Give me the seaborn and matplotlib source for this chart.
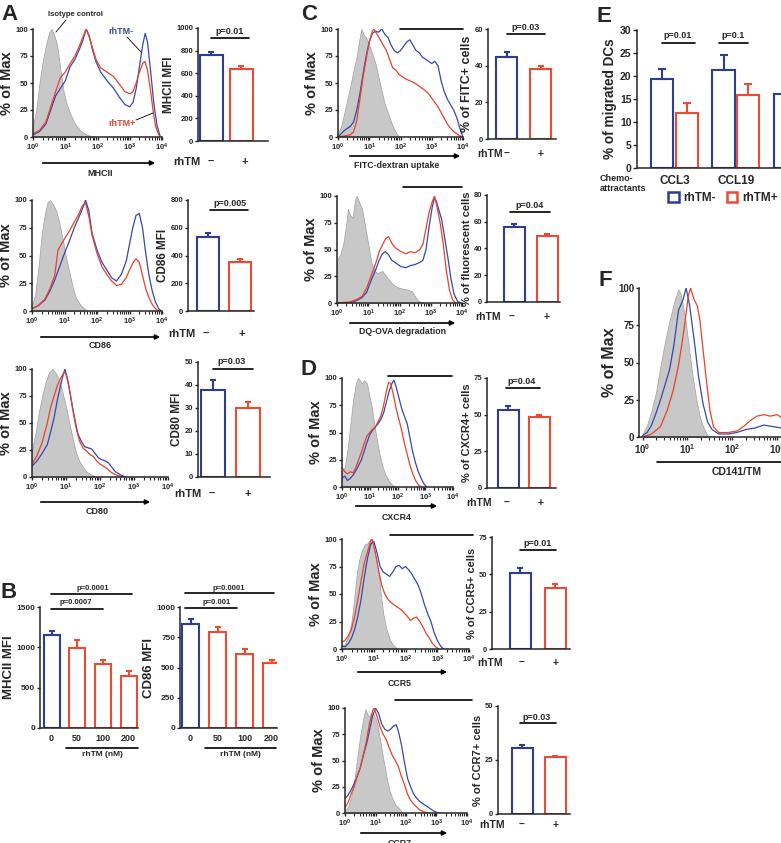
"""
Dendritic cell phenotype panels: flow histograms and MFI / percentage bars.
"""

import numpy as np
import pandas as pd
import matplotlib
matplotlib.use('Agg')
import matplotlib.pyplot as plt
from matplotlib.lines import Line2D
from matplotlib.patches import FancyArrowPatch, Patch
import seaborn as sns

# ---------------------------------------------------------------------------
# Data
# histogram curves are (log10 fluorescence, % of max) pairs
# ---------------------------------------------------------------------------
mhcii_iso = [(0, 10), (0.1, 25), (0.2, 50), (0.3, 70), (0.4, 85), (0.5, 97), (0.58, 100), (0.65, 95),
             (0.75, 85), (0.85, 62), (0.95, 42), (1.05, 30), (1.15, 22), (1.3, 12), (1.5, 5), (1.7, 2), (1.9, 0)]
mhcii_neg = [(0, 2), (0.2, 5), (0.4, 12), (0.55, 25), (0.7, 38), (0.85, 45), (1.0, 52), (1.15, 65), (1.3, 72),
             (1.45, 82), (1.55, 90), (1.65, 100), (1.75, 93), (1.85, 80), (1.95, 70), (2.1, 60), (2.3, 52),
             (2.5, 45), (2.7, 36), (2.85, 30), (3.0, 28), (3.1, 32), (3.2, 45), (3.3, 65), (3.4, 85), (3.48, 96),
             (3.55, 88), (3.65, 60), (3.75, 30), (3.85, 10), (3.95, 0)]
mhcii_pos = [(0, 3), (0.2, 6), (0.4, 14), (0.55, 28), (0.7, 42), (0.85, 55), (1.0, 60), (1.15, 68), (1.3, 75),
             (1.45, 85), (1.55, 93), (1.65, 100), (1.75, 92), (1.85, 82), (1.95, 72), (2.1, 64), (2.3, 60),
             (2.5, 56), (2.7, 48), (2.85, 42), (3.0, 40), (3.1, 42), (3.2, 50), (3.3, 60), (3.4, 68), (3.47, 70),
             (3.55, 62), (3.65, 42), (3.72, 25), (3.8, 10), (3.9, 2), (3.97, 0)]

cd86_iso = [(0, 5), (0.1, 15), (0.2, 40), (0.3, 70), (0.4, 88), (0.48, 98), (0.55, 100), (0.65, 96), (0.75, 90),
            (0.85, 78), (0.95, 64), (1.05, 48), (1.15, 35), (1.25, 22), (1.35, 12), (1.5, 5), (1.7, 0)]
cd86_neg = [(0, 2), (0.2, 5), (0.4, 10), (0.55, 18), (0.7, 28), (0.85, 40), (1.0, 52), (1.15, 63), (1.3, 75),
            (1.45, 85), (1.55, 92), (1.65, 100), (1.75, 90), (1.85, 70), (2.0, 55), (2.15, 44), (2.3, 37),
            (2.45, 30), (2.6, 27), (2.75, 33), (2.9, 45), (3.0, 60), (3.1, 75), (3.2, 86), (3.3, 88), (3.4, 75),
            (3.5, 52), (3.6, 32), (3.7, 18), (3.8, 8), (3.9, 2), (3.98, 0)]
cd86_pos = [(0, 2), (0.2, 5), (0.4, 11), (0.55, 20), (0.7, 32), (0.8, 55), (0.9, 60), (1.0, 65), (1.15, 72),
            (1.3, 80), (1.45, 88), (1.55, 95), (1.65, 97), (1.75, 85), (1.85, 68), (2.0, 52), (2.15, 40),
            (2.3, 33), (2.45, 27), (2.6, 23), (2.75, 24), (2.9, 30), (3.0, 37), (3.1, 43), (3.2, 47), (3.3, 44),
            (3.4, 32), (3.5, 20), (3.6, 12), (3.7, 6), (3.8, 2), (3.9, 0)]

cd80_iso = [(0, 25), (0.1, 40), (0.2, 60), (0.3, 75), (0.4, 88), (0.5, 97), (0.6, 100), (0.7, 96), (0.8, 90),
            (0.9, 78), (1.0, 65), (1.1, 50), (1.2, 35), (1.3, 22), (1.4, 14), (1.5, 9), (1.6, 5), (1.75, 2),
            (1.9, 0)]
cd80_neg = [(0, 10), (0.15, 15), (0.3, 22), (0.45, 30), (0.55, 42), (0.65, 55), (0.75, 72), (0.85, 86),
            (0.92, 95), (0.97, 100), (1.05, 90), (1.15, 72), (1.25, 55), (1.35, 40), (1.45, 33), (1.55, 28),
            (1.65, 27), (1.75, 26), (1.85, 22), (1.95, 18), (2.05, 16), (2.15, 15), (2.25, 13), (2.35, 9),
            (2.45, 5), (2.6, 2), (2.75, 0)]
cd80_pos = [(0, 12), (0.15, 20), (0.3, 32), (0.45, 50), (0.55, 65), (0.65, 75), (0.75, 85), (0.85, 92),
            (0.95, 97), (1.0, 95), (1.1, 82), (1.2, 62), (1.3, 45), (1.4, 33), (1.5, 27), (1.6, 24), (1.7, 21),
            (1.8, 19), (1.9, 15), (2.0, 12), (2.1, 10), (2.2, 8), (2.3, 5), (2.4, 3), (2.55, 1), (2.7, 0)]

fitc_iso = [(0, 3), (0.1, 10), (0.2, 22), (0.3, 35), (0.4, 48), (0.5, 62), (0.6, 75), (0.68, 90), (0.75, 100),
            (0.82, 95), (0.9, 92), (1.0, 85), (1.1, 77), (1.2, 68), (1.3, 55), (1.4, 42), (1.5, 30), (1.6, 22),
            (1.7, 14), (1.8, 7), (1.9, 2), (2.0, 0)]
fitc_neg = [(0, 0), (0.1, 3), (0.2, 6), (0.3, 8), (0.4, 10), (0.5, 14), (0.6, 25), (0.7, 40), (0.8, 58),
            (0.9, 75), (1.0, 88), (1.1, 96), (1.2, 98), (1.3, 97), (1.4, 100), (1.5, 95), (1.6, 92), (1.7, 85),
            (1.8, 80), (1.9, 78), (2.0, 80), (2.1, 84), (2.2, 88), (2.3, 90), (2.4, 85), (2.5, 80), (2.6, 78),
            (2.7, 74), (2.8, 72), (2.9, 70), (3.0, 68), (3.1, 70), (3.2, 66), (3.3, 52), (3.4, 42), (3.5, 35),
            (3.6, 30), (3.7, 25), (3.8, 18), (3.9, 8), (4.0, 0)]
fitc_pos = [(0, 0), (0.2, 1), (0.4, 2), (0.5, 5), (0.6, 15), (0.7, 35), (0.8, 55), (0.9, 72), (1.0, 88),
            (1.1, 98), (1.15, 100), (1.25, 95), (1.35, 90), (1.45, 85), (1.55, 80), (1.65, 72), (1.75, 64),
            (1.85, 62), (1.95, 58), (2.05, 56), (2.15, 54), (2.3, 52), (2.45, 50), (2.6, 47), (2.75, 44),
            (2.9, 40), (3.05, 34), (3.2, 28), (3.35, 20), (3.5, 12), (3.6, 8), (3.7, 5), (3.8, 3), (3.9, 1),
            (4.0, 0)]

dqova_iso = [(0, 40), (0.1, 45), (0.2, 55), (0.3, 75), (0.35, 88), (0.42, 82), (0.5, 80), (0.58, 97),
             (0.63, 100), (0.7, 95), (0.8, 88), (0.9, 72), (1.0, 55), (1.1, 38), (1.2, 30), (1.3, 28), (1.45, 30),
             (1.55, 26), (1.7, 20), (1.85, 16), (2.0, 14), (2.2, 13), (2.4, 11), (2.5, 6), (2.6, 2), (2.8, 0)]
dqova_neg = [(0, 0), (0.4, 0), (0.6, 2), (0.8, 5), (0.95, 10), (1.05, 18), (1.15, 25), (1.25, 32), (1.35, 40),
             (1.45, 46), (1.55, 48), (1.65, 45), (1.75, 40), (1.85, 38), (1.95, 36), (2.05, 34), (2.2, 33),
             (2.35, 35), (2.5, 36), (2.65, 38), (2.75, 40), (2.85, 50), (2.95, 72), (3.05, 90), (3.12, 98),
             (3.18, 95), (3.25, 88), (3.35, 78), (3.45, 60), (3.55, 42), (3.65, 22), (3.75, 8), (3.85, 2),
             (3.95, 0)]
dqova_pos = [(0, 0), (0.4, 1), (0.6, 3), (0.8, 6), (0.95, 14), (1.05, 22), (1.15, 30), (1.25, 38), (1.35, 48),
             (1.45, 54), (1.55, 60), (1.65, 62), (1.75, 56), (1.85, 52), (1.95, 50), (2.05, 48), (2.2, 46),
             (2.35, 48), (2.5, 47), (2.65, 50), (2.75, 55), (2.85, 70), (2.95, 85), (3.05, 95), (3.12, 100),
             (3.2, 90), (3.3, 75), (3.4, 55), (3.5, 30), (3.6, 12), (3.7, 3), (3.8, 0)]

cxcr4_iso = [(0, 14), (0.1, 18), (0.2, 35), (0.3, 57), (0.4, 80), (0.5, 95), (0.58, 100), (0.65, 98),
             (0.72, 95), (0.8, 98), (0.9, 95), (1.0, 82), (1.08, 72), (1.15, 60), (1.25, 44), (1.35, 30),
             (1.45, 20), (1.55, 12), (1.7, 5), (1.85, 1), (2.0, 0)]
cxcr4_neg = [(0, 8), (0.1, 10), (0.2, 6), (0.3, 8), (0.4, 11), (0.5, 15), (0.6, 20), (0.7, 25), (0.8, 33),
             (0.9, 41), (1.0, 48), (1.1, 52), (1.2, 55), (1.3, 58), (1.4, 62), (1.5, 68), (1.6, 78), (1.7, 88),
             (1.8, 95), (1.87, 98), (1.95, 92), (2.05, 82), (2.15, 72), (2.25, 65), (2.35, 58), (2.45, 45),
             (2.55, 32), (2.65, 22), (2.75, 14), (2.85, 8), (2.95, 3), (3.05, 0)]
cxcr4_pos = [(0, 18), (0.1, 14), (0.2, 12), (0.3, 14), (0.4, 13), (0.5, 18), (0.6, 25), (0.7, 32), (0.8, 40),
             (0.9, 47), (1.0, 50), (1.1, 53), (1.2, 55), (1.3, 60), (1.4, 65), (1.5, 75), (1.6, 88), (1.68, 96),
             (1.75, 95), (1.85, 85), (1.95, 72), (2.05, 62), (2.15, 52), (2.25, 40), (2.35, 30), (2.45, 20),
             (2.55, 12), (2.65, 6), (2.75, 2), (2.85, 0)]

ccr5_iso = [(0, 2), (0.1, 5), (0.2, 12), (0.3, 25), (0.4, 50), (0.47, 69), (0.55, 82), (0.63, 90), (0.72, 95),
            (0.8, 96), (0.9, 100), (0.97, 95), (1.05, 85), (1.15, 69), (1.22, 50), (1.3, 32), (1.4, 18),
            (1.5, 9), (1.6, 4), (1.75, 0)]
ccr5_neg = [(0, 3), (0.1, 2), (0.2, 5), (0.3, 10), (0.4, 18), (0.5, 30), (0.6, 45), (0.7, 65), (0.8, 82),
            (0.9, 95), (1.0, 98), (1.1, 88), (1.2, 75), (1.3, 70), (1.4, 68), (1.5, 66), (1.6, 70), (1.7, 75),
            (1.8, 76), (1.9, 73), (2.0, 75), (2.1, 72), (2.2, 68), (2.3, 63), (2.4, 58), (2.5, 50), (2.6, 40),
            (2.7, 32), (2.8, 25), (2.9, 15), (3.0, 8), (3.1, 3), (3.2, 0)]
ccr5_pos = [(0, 6), (0.1, 8), (0.2, 12), (0.3, 18), (0.4, 30), (0.5, 45), (0.6, 62), (0.7, 78), (0.8, 88),
            (0.9, 98), (0.95, 100), (1.05, 88), (1.15, 72), (1.25, 58), (1.35, 50), (1.45, 45), (1.55, 42),
            (1.65, 40), (1.75, 38), (1.85, 36), (1.95, 33), (2.05, 30), (2.15, 26), (2.25, 28), (2.35, 29),
            (2.45, 25), (2.55, 20), (2.65, 14), (2.75, 10), (2.85, 5), (2.95, 2), (3.05, 0)]

ccr7_iso = [(0, 2), (0.1, 6), (0.2, 15), (0.3, 30), (0.4, 52), (0.5, 74), (0.6, 90), (0.67, 99), (0.75, 93),
            (0.83, 92), (0.9, 96), (1.0, 90), (1.06, 84), (1.15, 70), (1.25, 52), (1.35, 36), (1.45, 22),
            (1.55, 14), (1.65, 8), (1.78, 4), (1.9, 0)]
ccr7_neg = [(0, 14), (0.1, 17), (0.2, 22), (0.3, 28), (0.4, 35), (0.5, 43), (0.6, 55), (0.7, 65), (0.8, 78),
            (0.9, 92), (1.0, 100), (1.1, 95), (1.2, 85), (1.3, 80), (1.4, 78), (1.5, 80), (1.6, 83), (1.68, 84),
            (1.75, 78), (1.85, 65), (1.95, 48), (2.05, 33), (2.15, 25), (2.25, 18), (2.35, 14), (2.45, 11),
            (2.6, 8), (2.75, 5), (2.9, 2), (3.05, 0)]
ccr7_pos = [(0, 5), (0.1, 10), (0.2, 18), (0.3, 25), (0.4, 35), (0.5, 43), (0.6, 55), (0.7, 68), (0.8, 85),
            (0.9, 97), (0.95, 100), (1.05, 92), (1.15, 82), (1.25, 75), (1.35, 70), (1.45, 62), (1.55, 55),
            (1.65, 50), (1.75, 44), (1.85, 35), (1.95, 27), (2.05, 18), (2.15, 12), (2.3, 7), (2.45, 3),
            (2.6, 1), (2.75, 0)]

tm_iso = [(0, 2), (0.1, 8), (0.2, 18), (0.3, 30), (0.4, 48), (0.5, 64), (0.6, 78), (0.7, 90), (0.75, 95),
          (0.8, 99), (0.85, 96), (0.9, 88), (0.95, 80), (1.0, 68), (1.05, 56), (1.1, 44), (1.15, 34), (1.2, 25),
          (1.28, 13), (1.35, 7), (1.43, 2), (1.5, 0)]
tm_neg = [(0, 1), (0.1, 3), (0.2, 8), (0.3, 16), (0.4, 25), (0.5, 35), (0.6, 45), (0.7, 62), (0.8, 85),
          (0.9, 92), (0.97, 100), (1.05, 88), (1.15, 65), (1.25, 40), (1.35, 22), (1.45, 10), (1.55, 5),
          (1.7, 2), (1.9, 2), (2.1, 3), (2.3, 5), (2.5, 6), (2.7, 8), (2.9, 7), (3.1, 6), (3.3, 5), (3.5, 3),
          (3.7, 2), (3.9, 0)]
tm_pos = [(0, 0), (0.2, 2), (0.4, 7), (0.55, 18), (0.68, 31), (0.8, 48), (0.87, 61), (0.95, 78), (1.02, 95),
          (1.07, 100), (1.15, 92), (1.22, 88), (1.28, 78), (1.35, 58), (1.43, 36), (1.5, 18), (1.58, 7),
          (1.7, 3), (1.9, 3), (2.1, 4), (2.25, 7), (2.4, 11), (2.55, 14), (2.7, 15), (2.85, 14), (3.0, 15),
          (3.15, 12), (3.3, 10), (3.5, 6), (3.7, 3), (3.9, 0)]

# bar charts: mean and SEM (rhTM -, rhTM +)
treat = ['-', '+']
mhcii_mfi, mhcii_sem = [760, 640], [30, 25]
cd86_mfi, cd86_sem = [535, 350], [30, 22]
cd80_mfi, cd80_sem = [38, 30], [4, 2.5]
fitc_pct, fitc_sem = [45, 38], [2.5, 2]
dqova_pct, dqova_sem = [56, 49], [2.5, 2]
cxcr4_pct, cxcr4_sem = [53.5, 48.5], [2.5, 1.5]
ccr5_pct, ccr5_sem = [51, 41], [3, 2.5]
ccr7_pct, ccr7_sem = [30.5, 26.5], [1.5, 0.5]

# dose response (panel B)
dose = ['0', '50', '100', '200']
dose_mhcii, dose_mhcii_sem = [1150, 990, 790, 650], [50, 100, 50, 55]
dose_cd86, dose_cd86_sem = [860, 795, 615, 535], [40, 40, 35, 30]

# migration (panel E); third chemokine is cut off at the right edge
chemo = ['CCL3', 'CCL19', 'third']
migr_neg, migr_neg_sem = [19.3, 21.2, 16.0], [2.2, 3.4, np.nan]
migr_pos, migr_pos_sem = [12.0, 15.8, np.nan], [2.2, 2.5, np.nan]

BLUE = '#2e3d92'
RED = '#ec4a33'
HBLUE = '#3549ab'
HRED = '#e8422c'
GREY = '#c8c8c8'

W, H = 781, 843

sns.set_style('ticks')
plt.rcParams['font.family'] = ['Liberation Sans', 'DejaVu Sans']
plt.rcParams['font.weight'] = 'bold'
plt.rcParams['axes.labelweight'] = 'bold'
plt.rcParams['mathtext.default'] = 'regular'
plt.rcParams['axes.linewidth'] = 1.1

fig = plt.figure(figsize=(W / 100, H / 100), dpi=100)


def box(left, top, right, bottom):
    """Axes placed by pixel edges (y measured from top)."""
    return fig.add_axes([left / W, 1 - bottom / H, (right - left) / W, (bottom - top) / H])


def txt(x, y, s, size=6.5, **kw):
    kw.setdefault('ha', 'center')
    kw.setdefault('va', 'center')
    fig.text(x / W, 1 - y / H, s, fontsize=size, **kw)


def seg(x0, y0, x1, y1, color='k', lw=1.2):
    fig.add_artist(Line2D([x0 / W, x1 / W], [1 - y0 / H, 1 - y1 / H], color=color, lw=lw,
                          transform=fig.transFigure))


def arrow(x0, x1, y):
    fig.add_artist(FancyArrowPatch((x0 / W, 1 - y / H), (x1 / W, 1 - y / H), transform=fig.transFigure,
                                   arrowstyle='-|>', mutation_scale=7, lw=1.2, color='k'))


def histo(rect, iso, neg, pos, xmin=0.0, tick_fs=5.5, lab_fs=10.5):
    ax = box(*rect)
    ix, iy = zip(*iso)
    ax.fill_between(ix, iy, 0, facecolor=GREY, edgecolor='#a0a0a0', lw=0.5)
    for curve, col in ((neg, HBLUE), (pos, HRED)):
        x, y = zip(*curve)
        ax.plot(x, y, color=col, lw=0.9)
    ax.set_xlim(xmin, 4)
    ax.set_ylim(0, 100)
    ax.set_yticks([0, 25, 50, 75, 100])
    ax.set_xticks(range(5))
    ax.set_xticklabels([f'$10^{d}$' for d in range(5)])
    ax.set_xticks([d + np.log10(k) for d in range(4) for k in range(2, 10)], minor=True)
    ax.tick_params(length=2.5, width=1, labelsize=tick_fs, pad=1)
    ax.tick_params(axis='x', which='minor', length=2.2, width=0.8)
    ax.set_ylabel('% of Max', fontsize=lab_fs, labelpad=1)
    sns.despine(ax=ax)
    return ax


def bars(rect, centers, wpx, vals, sems, colors, ymax, step, ylabel, lab_fs=8.5, tick_fs=5.5):
    left, top, right, bottom = rect
    ax = box(*rect)
    cats = list(range(len(vals)))
    unit = centers[1] - centers[0]
    sns.barplot(x=cats, y=vals, hue=cats, palette=colors, fill=False, width=wpx / unit,
                linewidth=1.5, errorbar=None, legend=False, ax=ax)
    for i, (v, e, c) in enumerate(zip(vals, sems, colors)):
        ax.errorbar(i, v, yerr=[[0], [e]], fmt='none', ecolor=c, elinewidth=1.5, capsize=2.5, capthick=1.5)
    ax.set_xlim((left - centers[0]) / unit, (right - centers[0]) / unit)
    ax.set_ylim(0, ymax)
    ax.set_yticks(np.arange(0, ymax + 1, step))
    ax.set_xticks([])
    ax.set_xlabel('')
    ax.set_ylabel(ylabel, fontsize=lab_fs, labelpad=1)
    ax.tick_params(length=2.5, width=1, labelsize=tick_fs, pad=1)
    sns.despine(ax=ax)
    return ax


def pval(s, x, y, x0, x1, ly, size=6.5):
    txt(x, y, s, size=size)
    seg(x0, ly, x1, ly, lw=1.2)


def rhtm_row(y, xr, xm, xp, size=8):
    txt(xr, y, 'rhTM', size=size)
    txt(xm, y, '\u2013', size=size)
    txt(xp, y, '+', size=size)


# ---------------------------------------------------------------- panel A
txt(1, 15, 'A', size=16, ha='left')
histo((33, 29, 162, 137), mhcii_iso, mhcii_neg, mhcii_pos)
arrow(40, 158, 163)
txt(100, 173, 'MHCII', size=6.5)
txt(75, 15, 'Isotype control', size=5.5)
seg(66, 20, 56, 32, lw=0.6)
txt(121, 32, 'rhTM-', size=6.5, color=HBLUE)
seg(127, 37, 141, 52, lw=0.6)
txt(122, 124, 'rhTM+', size=6.5, color=HRED)
seg(136, 120, 153, 113, lw=0.6)
bars((198, 28, 268, 141), [211, 241], 23, mhcii_mfi, mhcii_sem, [BLUE, RED], 1000, 200, 'MHCII MFI')
pval('p=0.01', 230, 31, 211, 249, 38)
rhtm_row(162, 187, 211, 245)

histo((32, 200, 162, 311), cd86_iso, cd86_neg, cd86_pos)
arrow(38, 163, 337)
txt(100, 346, 'CD86', size=6.5)
bars((188, 200, 254, 311), [208, 240], 22, cd86_mfi, cd86_sem, [BLUE, RED], 800, 200, 'CD86 MFI')
pval('p=0.005', 230, 203, 210, 248, 210)
rhtm_row(334, 182, 206, 242)

histo((32, 369, 168, 477), cd80_iso, cd80_neg, cd80_pos)
arrow(38, 153, 502)
txt(97, 512, 'CD80', size=6.5)
bars((198, 362, 270, 477), [213, 248], 24, cd80_mfi, cd80_sem, [BLUE, RED], 50, 10, 'CD80 MFI')
pval('p=0.03', 232, 362, 213, 253, 369)
rhtm_row(494, 188, 212, 248)

# ---------------------------------------------------------------- panel B
txt(1, 592, 'B', size=16, ha='left')
ax = bars((40, 607, 138, 728), [51.5, 77.2], 16, dose_mhcii, dose_mhcii_sem, [BLUE, RED, RED, RED],
          1500, 500, 'MHCII MFI', lab_fs=9.5, tick_fs=6)
ax.set_xticks(range(4))
ax.set_xticklabels(dose, fontsize=6.5)
ax.tick_params(axis='x', length=0, pad=4)
pval('p=0.0001', 93, 589, 51, 132, 594, size=5.5)
pval('p=0.0007', 76, 603, 51, 103, 609, size=5.5)
seg(66, 748, 138, 748, lw=1.2)
txt(102, 755, 'rhTM (nM)', size=6)

ax = bars((180, 607, 277, 728), [190.5, 217.5], 17, dose_cd86, dose_cd86_sem, [BLUE, RED, RED, RED],
          1000, 250, 'CD86 MFI', lab_fs=9.5, tick_fs=6)
ax.set_xticks(range(4))
ax.set_xticklabels(dose, fontsize=6.5)
ax.tick_params(axis='x', length=0, pad=4)
pval('p=0.0001', 229, 588, 185, 274, 593, size=5.5)
pval('p=0.001', 217, 602, 185, 237, 608, size=5.5)
seg(205, 748, 276, 748, lw=1.2)
txt(240, 755, 'rhTM (nM)', size=6)

# ---------------------------------------------------------------- panel C
txt(301, 15, 'C', size=16, ha='left')
histo((338, 29, 463, 137), fitc_iso, fitc_neg, fitc_pos)
seg(400, 29, 463, 29, lw=1.2)
arrow(347, 463, 156)
txt(397, 166, 'FITC-dextran uptake', size=6.3)
bars((488, 29, 556, 139), [507, 541], 21, fitc_pct, fitc_sem, [BLUE, RED], 60, 20, '% of FITC+ cells', lab_fs=9)
pval('p=0.03', 526, 28, 507, 545, 34)
rhtm_row(154, 490, 507, 541, size=7.5)

histo((337, 196, 462, 303), dqova_iso, dqova_neg, dqova_pos)
seg(403, 187, 462, 187, lw=1.2)
arrow(347, 458, 323)
txt(402, 331, 'DQ-OVA degradation', size=6.3)
bars((487, 195, 560, 302), [514, 547], 21, dqova_pct, dqova_sem, [BLUE, RED], 80, 20,
     '% of fluorescent cells', lab_fs=8)
pval('p=0.04', 530, 205, 510, 550, 212)
rhtm_row(317, 488, 512, 547, size=7.5)

# ---------------------------------------------------------------- panel D
txt(301, 370, 'D', size=16, ha='left')
histo((342, 378, 453, 487), cxcr4_iso, cxcr4_neg, cxcr4_pos)
seg(388, 376, 452, 376, lw=1.2)
arrow(353, 440, 506)
txt(397, 517, 'CXCR4', size=6.3)
bars((487, 378, 556, 488), [508, 539], 21, cxcr4_pct, cxcr4_sem, [BLUE, RED], 75, 25,
     '% of CXCR4+ cells', lab_fs=8)
pval('p=0.04', 522, 382, 506, 540, 388)
rhtm_row(503, 479, 507, 541, size=7.5)

histo((342, 539, 469, 649), ccr5_iso, ccr5_neg, ccr5_pos)
seg(390, 535, 473, 535, lw=1.2)
arrow(355, 450, 672)
txt(400, 684, 'CCR5', size=6.3)
bars((492, 537, 570, 649), [520, 555], 21, ccr5_pct, ccr5_sem, [BLUE, RED], 75, 25,
     '% of CCR5+ cells', lab_fs=8)
pval('p=0.01', 538, 543, 520, 556, 550)
rhtm_row(663, 490, 522, 556, size=7.5)

histo((345, 708, 467, 813), ccr7_iso, ccr7_neg, ccr7_pos)
seg(395, 700, 472, 700, lw=1.2)
arrow(358, 450, 833)
txt(400, 839, 'CCR7', size=6.3, va='top')
bars((498, 706, 570, 814), [522, 555], 21, ccr7_pct, ccr7_sem, [BLUE, RED], 50, 25,
     '% of CCR7+ cells', lab_fs=8)
pval('p=0.03', 537, 717, 520, 556, 723)
rhtm_row(825, 492, 522, 556, size=7.5)

# ---------------------------------------------------------------- panel E
txt(596, 16, 'E', size=16, ha='left')
ax = box(637, 30, 840, 168)
migr = pd.DataFrame({
    'chemo': np.repeat(chemo, 2),
    'group': ['rhTM-', 'rhTM+'] * len(chemo),
    'pct': np.ravel(np.column_stack([migr_neg, migr_pos])),
}).dropna()
sns.barplot(data=migr, x='chemo', y='pct', hue='group', order=chemo, hue_order=['rhTM-', 'rhTM+'],
            palette=[BLUE, RED], fill=False, width=0.8, gap=0.1, linewidth=1.5, errorbar=None,
            legend=False, ax=ax)
for off, vals, sems, col in ((-0.2, migr_neg, migr_neg_sem, BLUE), (0.2, migr_pos, migr_pos_sem, RED)):
    for i, (v, e) in enumerate(zip(vals, sems)):
        if not np.isnan(e):
            ax.errorbar(i + off, v, yerr=[[0], [e]], fmt='none', ecolor=col, elinewidth=1.5,
                        capsize=3, capthick=1.5)
unit = 61.25
ax.set_xlim((637 - 674.5) / unit, (840 - 674.5) / unit)
ax.set_ylim(0, 30)
ax.set_yticks(range(0, 31, 5))
ax.set_xticks(range(len(chemo)))
ax.set_xticklabels(['CCL3', 'CCL19', ''], fontsize=8.5)
ax.set_xlabel('')
ax.set_ylabel('% of migrated DCs', fontsize=9.8, labelpad=2)
ax.tick_params(axis='y', length=3, width=1, labelsize=7.5, pad=1)
ax.tick_params(axis='x', length=0, pad=5)
sns.despine(ax=ax)
pval('p=0.01', 678, 36, 662, 695, 43, size=6.5)
pval('p=0.1', 733, 36, 719, 748, 43, size=6.5)
txt(600, 174, 'Chemo-\nattractants', size=6.5, ha='left', va='top', linespacing=1.1)
fig.legend(handles=[Patch(facecolor='white', edgecolor=BLUE, lw=1.8),
                    Patch(facecolor='white', edgecolor=RED, lw=1.8)],
           labels=['rhTM-', 'rhTM+'], loc='center left', bbox_to_anchor=(668 / W, 1 - 198 / H),
           ncol=2, frameon=False, fontsize=8.5, handlelength=0.9, handleheight=0.9,
           handletextpad=0.4, columnspacing=0.9, borderaxespad=0, borderpad=0)

# ---------------------------------------------------------------- panel F
txt(599, 281, 'F', size=16, ha='left')
histo((639, 288, 822, 437), tm_iso, tm_neg, tm_pos, xmin=-0.08, tick_fs=7, lab_fs=11.5)
seg(657, 462, 781, 462, lw=1.2)
txt(737, 472, 'CD141/TM', size=7.5)

fig.savefig('out.png', dpi=100)
